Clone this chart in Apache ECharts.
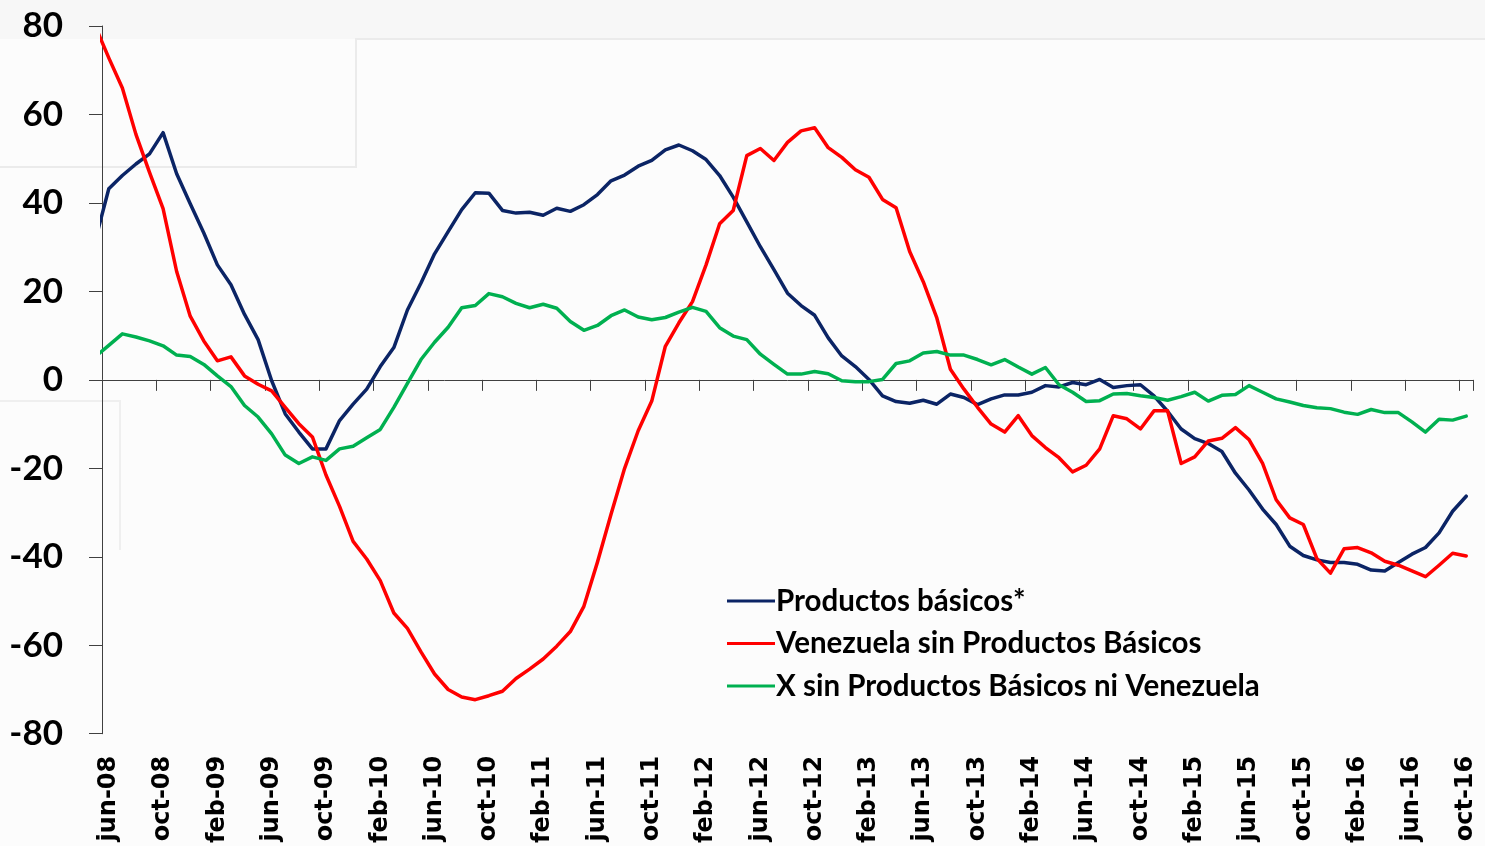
<!DOCTYPE html>
<html>
<head>
<meta charset="utf-8">
<title>Productos básicos y Venezuela</title>
<script src="https://cdn.jsdelivr.net/npm/echarts@6/dist/echarts.min.js"></script>
<style>
  html, body { margin: 0; padding: 0; background: #fcfcfc; }
  #chart { width: 1485px; height: 846px; }
</style>
</head>
<body>
<div id="chart"></div>
<script>
// Month labels: may-08 .. oct-16 (the first month sits just left of the plot and is clipped)
const MONTH_NAMES = ['ene', 'feb', 'mar', 'abr', 'may', 'jun', 'jul', 'ago', 'sep', 'oct', 'nov', 'dic'];
const START_YEAR = 2008;
const START_MONTH = 4; // may
const MONTH_COUNT = 102;
const months = [];
for (let k = 0; k < MONTH_COUNT; k++) {
  const m = (START_MONTH + k) % 12;
  const y = START_YEAR + Math.floor((START_MONTH + k) / 12);
  months.push(MONTH_NAMES[m] + '-' + String(y % 100).padStart(2, '0'));
}

const SERIES_NAMES = [
  'Productos básicos*',
  'Venezuela sin Productos Básicos',
  'X sin Productos Básicos ni Venezuela'
];

// Annual variation (%), monthly, may-08 .. oct-16
const productosBasicos = [
  31.5,
  43.2, 46.2, 48.8, 51.1, 55.9, 46.6, 39.8, 33.2, 26.0, 21.5,
  14.8, 9.1, -0.2, -7.7, -11.8, -15.6, -15.6, -9.2, -5.5, -2.1,
  3.0, 7.3, 15.8, 21.9, 28.5, 33.5, 38.5, 42.3, 42.2, 38.3,
  37.7, 37.9, 37.2, 38.8, 38.1, 39.6, 41.9, 45.0, 46.3, 48.3,
  49.6, 52.0, 53.1, 51.8, 49.8, 46.2, 41.3, 35.7, 30.1, 24.9,
  19.6, 16.8, 14.6, 9.5, 5.4, 3.0, 0.1, -3.6, -4.9, -5.3,
  -4.6, -5.5, -3.2, -4.0, -5.6, -4.3, -3.4, -3.4, -2.8, -1.3,
  -1.6, -0.6, -1.1, 0.1, -1.7, -1.3, -1.1, -3.6, -7.1, -11.1,
  -13.3, -14.4, -16.2, -21.1, -24.9, -29.2, -32.7, -37.6, -39.7, -40.7,
  -41.3, -41.3, -41.7, -43.0, -43.2, -41.3, -39.4, -37.9, -34.6, -29.7,
  -26.3
];

const venezuelaSinPB = [
  80.0,
  72.8, 66.0, 55.5, 46.9, 38.7, 24.5, 14.4, 8.8, 4.3, 5.2,
  0.9, -1.0, -2.5, -6.2, -9.9, -12.9, -21.5, -28.6, -36.5, -40.5,
  -45.4, -52.7, -56.2, -61.5, -66.5, -70.0, -71.7, -72.3, -71.4, -70.4,
  -67.5, -65.4, -63.1, -60.2, -56.9, -51.2, -41.2, -30.4, -20.0, -11.5,
  -4.8, 7.6, 12.9, 17.7, 26.0, 35.3, 38.3, 50.7, 52.3, 49.6,
  53.7, 56.3, 57.0, 52.5, 50.3, 47.5, 45.8, 40.8, 38.9, 29.0,
  22.2, 14.0, 2.4, -2.1, -6.2, -10.0, -11.8, -8.1, -12.6, -15.3,
  -17.6, -20.8, -19.3, -15.6, -8.1, -8.8, -11.1, -7.0, -7.0, -18.9,
  -17.4, -13.8, -13.2, -10.8, -13.5, -18.9, -27.1, -31.2, -32.7, -40.4,
  -43.7, -38.2, -37.9, -39.1, -41.0, -41.9, -43.2, -44.5, -41.9, -39.2,
  -39.8
];

const xSinPBniVenezuela = [
  5.2,
  7.8, 10.4, 9.7, 8.8, 7.7, 5.6, 5.3, 3.5, 0.9, -1.5,
  -5.8, -8.4, -12.2, -17.0, -18.9, -17.4, -18.2, -15.6, -15.0, -13.1,
  -11.2, -6.2, -0.8, 4.6, 8.5, 11.9, 16.3, 16.8, 19.5, 18.8,
  17.3, 16.3, 17.1, 16.2, 13.2, 11.2, 12.3, 14.5, 15.8, 14.2,
  13.6, 14.1, 15.3, 16.4, 15.5, 11.8, 9.9, 9.1, 5.8, 3.5,
  1.3, 1.3, 1.9, 1.4, -0.2, -0.4, -0.4, 0.1, 3.7, 4.3,
  6.1, 6.4, 5.6, 5.6, 4.6, 3.4, 4.6, 2.9, 1.3, 2.8,
  -1.1, -2.8, -4.9, -4.7, -3.2, -3.1, -3.6, -4.0, -4.6, -3.8,
  -2.8, -4.8, -3.5, -3.3, -1.3, -2.8, -4.3, -5.0, -5.8, -6.3,
  -6.5, -7.3, -7.8, -6.7, -7.4, -7.4, -9.5, -11.8, -8.9, -9.1,
  -8.2
];

const Y_MIN = -80;
const Y_MAX = 80;
const Y_STEP = 20;
const FIRST_SHOWN = 1;          // jun-08
const LABEL_EVERY = 4;          // one label every four months

const COLORS = ['#0b2465', '#ff0000', '#00b050'];

const everyFourth = function (index) {
  return index >= FIRST_SHOWN && (index - FIRST_SHOWN) % LABEL_EVERY === 0;
};

const chart = echarts.init(document.getElementById('chart'), null, { renderer: 'canvas' });

const lineSeries = (name, data, color) => ({
  name: name,
  type: 'line',
  data: data,
  xAxisIndex: 0,
  yAxisIndex: 0,
  symbol: 'none',
  smooth: false,
  clip: true,
  lineStyle: { color: color, width: 3.5, cap: 'round', join: 'round' },
  itemStyle: { color: color },
  emphasis: { disabled: true },
  animation: false
});

chart.setOption({
  backgroundColor: '#fcfcfc',
  animation: false,
  graphic: [
    { type: 'rect', silent: true, z: -10, shape: { x: 0, y: 0, width: 1485, height: 39 }, style: { fill: '#f7f7f7' } },
    { type: 'polyline', silent: true, z: -9, shape: { points: [[0, 167], [356, 167], [356, 39], [1485, 39]] }, style: { stroke: '#ebebeb', lineWidth: 2, fill: null } },
    { type: 'polyline', silent: true, z: -9, shape: { points: [[0, 401], [120, 401], [120, 550]] }, style: { stroke: '#efefef', lineWidth: 2, fill: null } }
  ],
  grid: { left: 102, right: 12, top: 26, bottom: 107, containLabel: false },
  legend: {
    orient: 'vertical',
    left: 727,
    top: 585,
    padding: 0,
    icon: 'rect',
    itemWidth: 48,
    itemHeight: 3,
    itemGap: 10.5,
    selectedMode: false,
    data: SERIES_NAMES,
    textStyle: {
      fontFamily: 'Lato',
      fontWeight: 'bold',
      fontSize: 29.5,
      lineHeight: 32,
      color: '#000',
      padding: [0, 0, 0, -4]
    }
  },
  xAxis: [
    {
      type: 'category',
      data: months,
      boundaryGap: true,
      min: FIRST_SHOWN,
      max: months.length - 1,
      axisLine: { show: true, onZero: true, lineStyle: { color: '#404040', width: 1 } },
      axisTick: { show: true, interval: everyFourth, length: 11, lineStyle: { color: '#404040', width: 1 } },
      axisLabel: { show: false },
      splitLine: { show: false }
    },
    {
      type: 'category',
      data: months,
      boundaryGap: true,
      min: FIRST_SHOWN,
      max: months.length - 1,
      position: 'bottom',
      axisLine: { show: false, onZero: false },
      axisTick: { show: false },
      splitLine: { show: false },
      axisLabel: {
        show: true,
        interval: everyFourth,
        rotate: 90,
        margin: 22,
        fontFamily: 'DejaVu Sans',
        fontWeight: 'bold',
        fontSize: 24,
        color: '#000'
      }
    }
  ],
  yAxis: {
    type: 'value',
    min: Y_MIN,
    max: Y_MAX,
    interval: Y_STEP,
    axisLine: { show: true, onZero: false, lineStyle: { color: '#404040', width: 1 } },
    axisTick: { show: true, length: 13, lineStyle: { color: '#404040', width: 1 } },
    splitLine: { show: false },
    axisLabel: {
      margin: 39,
      fontFamily: 'Lato',
      fontWeight: 'bold',
      fontSize: 35,
      color: '#000'
    }
  },
  series: [
    lineSeries(SERIES_NAMES[0], productosBasicos, COLORS[0]),
    lineSeries(SERIES_NAMES[1], venezuelaSinPB, COLORS[1]),
    lineSeries(SERIES_NAMES[2], xSinPBniVenezuela, COLORS[2])
  ]
});
</script>
</body>
</html>
